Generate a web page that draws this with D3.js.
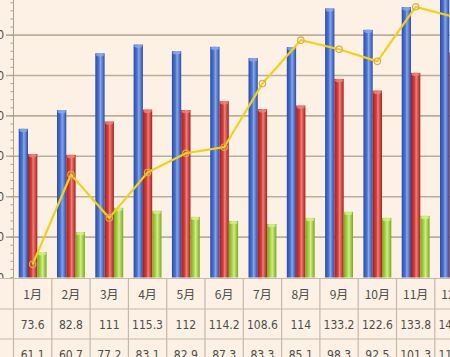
<!DOCTYPE html>
<html><head><meta charset="utf-8">
<script src="https://cdn.jsdelivr.net/npm/d3@7"></script>
<style>body{margin:0;background:#FCF1E4;overflow:hidden}svg{display:block}</style>
</head><body>
<svg id="c" width="450" height="357"></svg>
<script>
const months = ["1月","2月","3月","4月","5月","6月","7月","8月","9月","10月","11月","12月"];
const seriesNames = ["blue","red","green"];
const blueValues = [73.6,82.8,111,115.3,112,114.2,108.6,114,133.2,122.6,133.8,145.6];
const redValues = [61.1,60.7,77.2,83.1,82.9,87.3,83.3,85.1,98.3,92.5,101.3,111.4];
const greenValues = [12.5,22.5,34.5,33,30,28,26.5,29.5,32.5,29.5,30.5,31];
const lineValues = [6.5,51,29.5,52,61.5,64.5,96,117.5,113,107,134,129];
const yTicks = [0,20,40,60,80,100,120,140];
const tableRow1 = ["73.6","82.8","111","115.3","112","114.2","108.6","114","133.2","122.6","133.8","145.6"];
const tableRow2 = ["61.1","60.7","77.2","83.1","82.9","87.3","83.3","85.1","98.3","92.5","101.3","111.4"];

const svg = d3.select("#c");
const bg = "#FCF1E4";
svg.append("rect").attr("width",450).attr("height",357).attr("fill",bg);

const x0 = 13.5, colW = 38.3;
const x = d3.scaleBand().domain(months).range([x0, x0 + colW*12]).padding(0);
const xs = d3.scaleBand().domain(seriesNames).range([0, x.bandwidth()]).paddingInner(0).paddingOuter(0.56);
const y = d3.scaleLinear().domain([0,140]).range([277.5, 277.5 - 140*2.02]);

const colors = {
  blue: {edge:"#2C4CA2", mid:"#4F77D6", light:"#86A8EC"},
  red: {edge:"#A61E1E", mid:"#D9403C", light:"#EE8278"},
  green: {edge:"#78A81E", mid:"#ADD94E", light:"#D2EE88"}
};
const defs = svg.append("defs");
seriesNames.forEach(s => {
  const g = defs.append("linearGradient").attr("id","g_"+s).attr("x1","0").attr("x2","1").attr("y1","0").attr("y2","0");
  g.append("stop").attr("offset","0%").attr("stop-color",colors[s].edge);
  g.append("stop").attr("offset","40%").attr("stop-color",colors[s].mid);
  g.append("stop").attr("offset","55%").attr("stop-color",colors[s].light);
  g.append("stop").attr("offset","100%").attr("stop-color",colors[s].edge);
});

// gridlines
svg.append("g").selectAll("line").data(yTicks.filter(d=>d>0)).join("line")
  .attr("x1", 6).attr("x2", 450).attr("y1", d=>y(d)).attr("y2", d=>y(d))
  .attr("stroke","#B7AE9C").attr("stroke-width",1.6);

// y axis
const axisG = svg.append("g");
axisG.append("line").attr("x1",x0).attr("x2",x0).attr("y1",0).attr("y2",y(0)).attr("stroke","#A9A293").attr("stroke-width",1);
const minor = d3.range(0,141,4);
axisG.selectAll("line.m").data(minor).join("line").attr("class","m")
  .attr("x1",x0-3).attr("x2",x0).attr("y1",d=>y(d)).attr("y2",d=>y(d))
  .attr("stroke","#A9A293").attr("stroke-width",1);
axisG.selectAll("text").data(yTicks).join("text")
  .attr("x",4).attr("y",d=>y(d)+4).attr("text-anchor","end")
  .attr("font-family","DejaVu Sans Condensed, DejaVu Sans, sans-serif").attr("font-size",12).attr("fill","#4d4d4d")
  .text(d=>d);

// bars
const data = months.map((m,i)=>({m, vals:[blueValues[i],redValues[i],greenValues[i]]}));
const groups = svg.append("g").selectAll("g").data(data).join("g")
  .attr("transform", d=>`translate(${x(d.m)},0)`);
groups.selectAll("rect").data(d=>d.vals.map((v,j)=>({s:seriesNames[j], v}))).join("rect")
  .attr("x", d=>xs(d.s)).attr("width", xs.bandwidth())
  .attr("y", d=>y(d.v)).attr("height", d=>y(0)-y(d.v))
  .attr("fill", d=>`url(#g_${d.s})`);
groups.selectAll("ellipse").data(d=>d.vals.map((v,j)=>({s:seriesNames[j], v}))).join("ellipse")
  .attr("cx", d=>xs(d.s)+xs.bandwidth()/2).attr("cy", d=>y(d.v)+1.5)
  .attr("rx", xs.bandwidth()/2-0.5).attr("ry", 1.8)
  .attr("fill", d=>colors[d.s].light).attr("opacity",0.85);

// line
const line = d3.line().x((d,i)=>x(months[i])+x.bandwidth()/2).y(d=>y(d));
svg.append("path").datum(lineValues).attr("d", line)
  .attr("fill","none").attr("stroke","#F0D21C").attr("stroke-width",2.2).attr("stroke-linejoin","round");
svg.append("g").selectAll("circle").data(lineValues).join("circle")
  .attr("cx",(d,i)=>x(months[i])+x.bandwidth()/2).attr("cy",d=>y(d)).attr("r",3.2)
  .attr("fill","none").attr("stroke","#D6AE4C").attr("stroke-width",1.2);

// table
const tTop = 278.5, rowH = [30.5, 30, 30];
const rowY = [tTop, tTop+rowH[0], tTop+rowH[0]+rowH[1], tTop+rowH[0]+rowH[1]+rowH[2]];
const tg = svg.append("g");
tg.append("rect").attr("x",0).attr("y",tTop).attr("width",450).attr("height",357-tTop).attr("fill",bg);
tg.selectAll("line.h").data(rowY).join("line").attr("class","h")
  .attr("x1",0).attr("x2",450).attr("y1",d=>d).attr("y2",d=>d)
  .attr("stroke","#C2BAAB").attr("stroke-width",1.2);
tg.selectAll("line.v").data(months.map(m=>x(m)).concat([x(months[11])+x.bandwidth()])).join("line").attr("class","v")
  .attr("x1",d=>d).attr("x2",d=>d).attr("y1",tTop).attr("y2",357)
  .attr("stroke","#C2BAAB").attr("stroke-width",1.2);
const tf = "DejaVu Sans Condensed, 'Noto Sans CJK SC', sans-serif";
tg.selectAll("text.mo").data(months).join("text").attr("class","mo")
  .attr("x",m=>x(m)+x.bandwidth()/2).attr("y",rowY[0]+rowH[0]/2+5)
  .attr("text-anchor","middle").attr("font-family","'Noto Sans CJK SC', sans-serif").attr("font-size",12).attr("fill","#4d4d4d")
  .text(d=>d);
tg.selectAll("text.r1").data(tableRow1).join("text").attr("class","r1")
  .attr("x",(d,i)=>x(months[i])+x.bandwidth()/2).attr("y",rowY[1]+rowH[1]/2+5)
  .attr("text-anchor","middle").attr("font-family",tf).attr("font-size",12).attr("fill","#4d4d4d")
  .text(d=>d);
tg.selectAll("text.r2").data(tableRow2).join("text").attr("class","r2")
  .attr("x",(d,i)=>x(months[i])+x.bandwidth()/2).attr("y",rowY[2]+rowH[2]/2+5)
  .attr("text-anchor","middle").attr("font-family",tf).attr("font-size",12).attr("fill","#4d4d4d")
  .text(d=>d);
</script>
</body></html>
